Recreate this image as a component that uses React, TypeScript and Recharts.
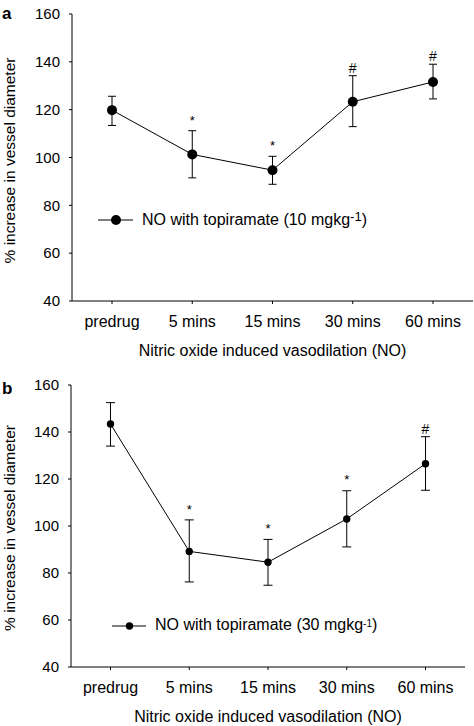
import React from "react";
import {
  LineChart,
  Line,
  XAxis,
  YAxis,
  ErrorBar,
  LabelList,
  Legend,
} from "recharts";

const categories = ["predrug", "5 mins", "15 mins", "30 mins", "60 mins"];
const yTicks = [40, 60, 80, 100, 120, 140, 160];

// panel a: topiramate 10 mg/kg
const meanA = [119.8, 101.3, 94.7, 123.3, 131.6];
const upperA = [125.6, 111.2, 100.5, 134.2, 139.0];
const lowerA = [113.4, 91.5, 88.8, 112.9, 124.5];
const marksA = ["", "*", "*", "#", "#"];
const markPosA = [null, 116.8, 106.4, 137.4, 142.4];

// panel b: topiramate 30 mg/kg
const meanB = [143.4, 89.2, 84.6, 103.0, 126.5];
const upperB = [152.5, 102.6, 94.3, 115.0, 138.0];
const lowerB = [134.0, 76.2, 74.8, 91.1, 115.2];
const marksB = ["", "*", "*", "*", "#"];
const markPosB = [null, 108.2, 100.1, 121.0, 141.2];

const yTitle = "% increase in vessel diameter";
const xTitle = "Nitric oxide induced vasodilation (NO)";

const FONT = '"Liberation Sans", Arial, Helvetica, sans-serif';

const buildRows = (
  mean: number[],
  upper: number[],
  lower: number[],
  marks: string[],
  markPos: (number | null)[]
) =>
  categories.map((name, i) => ({
    name,
    value: mean[i],
    err: [mean[i] - lower[i], upper[i] - mean[i]],
    mark: marks[i],
    markY: markPos[i],
  }));

const rowsA = buildRows(meanA, upperA, lowerA, marksA, markPosA);
const rowsB = buildRows(meanB, upperB, lowerB, marksB, markPosB);

const renderMark = (props: any) => {
  const { x, y, value } = props;
  if (!value || y == null || isNaN(y)) return null;
  const fs = value === "*" ? 13 : 14;
  const lift = value === "*" ? 0.58 : 0.36;
  return (
    <text x={x} y={y + lift * fs} textAnchor="middle" fontSize={fs} fill="#000" fontFamily={FONT}>
      {value}
    </text>
  );
};

const yLabel = (letter: string, letterY: number, shift: number) => (props: any) => {
  const vb = props.viewBox || { x: 0, y: 0, width: 0, height: 0 };
  const cy = vb.y + vb.height / 2 + shift;
  return (
    <g>
      <text
        x={15}
        y={cy}
        transform={`rotate(-90 15 ${cy})`}
        textAnchor="middle"
        fontSize={15.5}
        fill="#000"
        fontFamily={FONT}
      >
        {yTitle}
      </text>
      <text x={2} y={letterY} fontSize={17} fontWeight="bold" fill="#000" fontFamily={FONT}>
        {letter}
      </text>
    </g>
  );
};

const LegendKey = ({ dose, r, w, gap, supSize, supRaise }: any) => (
  <div
    style={{
      display: "flex",
      alignItems: "center",
      height: 20,
      whiteSpace: "nowrap",
      fontSize: 16,
      color: "#000",
      fontFamily: FONT,
    }}
  >
    <svg width={w} height={20} style={{ display: "block" }}>
      <line x1={0} x2={w - 1} y1={10} y2={10} stroke="#000" strokeWidth={1} />
      <circle cx={w / 2} cy={10} r={r} fill="#000" />
    </svg>
    <span style={{ marginLeft: gap, lineHeight: "20px" }}>
      NO with topiramate ({dose} mgkg
      <span style={{ fontSize: supSize, position: "relative", top: -supRaise }}>-1</span>)
    </span>
  </div>
);

interface PanelProps {
  rows: any[];
  height: number;
  margin: { top: number; right: number; bottom: number; left: number };
  yWidth: number;
  pad: number;
  dotR: number;
  capW: number;
  letter: string;
  letterY: number;
  titleShift: number;
  legend: any;
  legendPos: { left: number; top: number };
}

function Panel(p: PanelProps) {
  return (
    <LineChart width={474} height={p.height} data={p.rows} margin={p.margin} style={{ fontFamily: FONT }}>
      <XAxis
        dataKey="name"
        height={59}
        interval={0}
        padding={{ left: p.pad, right: p.pad }}
        tickSize={3}
        tickMargin={12}
        axisLine={{ stroke: "#000", strokeWidth: 1 }}
        tickLine={{ stroke: "#000", strokeWidth: 1 }}
        tick={{ fill: "#000", fontSize: 16 }}
        label={{ value: xTitle, position: "insideBottom", offset: 4, fill: "#000", fontSize: 16 }}
      />
      <YAxis
        type="number"
        width={p.yWidth}
        domain={[40, 160]}
        ticks={yTicks}
        interval={0}
        tickSize={3}
        tickMargin={9}
        axisLine={{ stroke: "#000", strokeWidth: 1 }}
        tickLine={{ stroke: "#000", strokeWidth: 1 }}
        tick={{ fill: "#000", fontSize: 15 }}
        label={{ content: yLabel(p.letter, p.letterY, p.titleShift) }}
      />
      <Legend
        layout="vertical"
        align="center"
        verticalAlign="middle"
        wrapperStyle={{ left: p.legendPos.left, top: p.legendPos.top, width: "auto" }}
        content={() => <LegendKey {...p.legend} />}
      />
      <Line
        dataKey="value"
        stroke="#000"
        strokeWidth={1}
        dot={{ r: p.dotR, fill: "#000", stroke: "none" }}
        activeDot={false}
        isAnimationActive={false}
      >
        <ErrorBar dataKey="err" direction="y" width={p.capW} stroke="#000" strokeWidth={1} />
      </Line>
      <Line
        dataKey="markY"
        stroke="none"
        dot={false}
        activeDot={false}
        legendType="none"
        isAnimationActive={false}
      >
        <LabelList dataKey="mark" content={renderMark} />
      </Line>
    </LineChart>
  );
}

export default function App() {
  return (
    <div
      style={{
        position: "absolute",
        left: 0,
        top: 0,
        width: 474,
        height: 726,
        background: "#fff",
        fontFamily: FONT,
      }}
    >
      <div style={{ position: "absolute", left: 0, top: 0 }}>
        <Panel
          rows={rowsA}
          height={360}
          margin={{ top: 14, right: 1, bottom: 0, left: 0 }}
          yWidth={72}
          pad={40}
          dotR={5}
          capW={4}
          letter="a"
          letterY={18.5}
          titleShift={3}
          legend={{ dose: 10, r: 5, w: 36, gap: 8, supSize: 13, supRaise: 3.5 }}
          legendPos={{ left: 98, top: 210 }}
        />
      </div>
      <div style={{ position: "absolute", left: 0, top: 360 }}>
        <Panel
          rows={rowsB}
          height={366}
          margin={{ top: 25, right: 9, bottom: 0, left: 0 }}
          yWidth={71}
          pad={39.5}
          dotR={3.7}
          capW={4.5}
          letter="b"
          letterY={33.5}
          titleShift={2}
          legend={{ dose: 30, r: 3.7, w: 35, gap: 8, supSize: 10, supRaise: 3.5 }}
          legendPos={{ left: 112, top: 256 }}
        />
      </div>
    </div>
  );
}
